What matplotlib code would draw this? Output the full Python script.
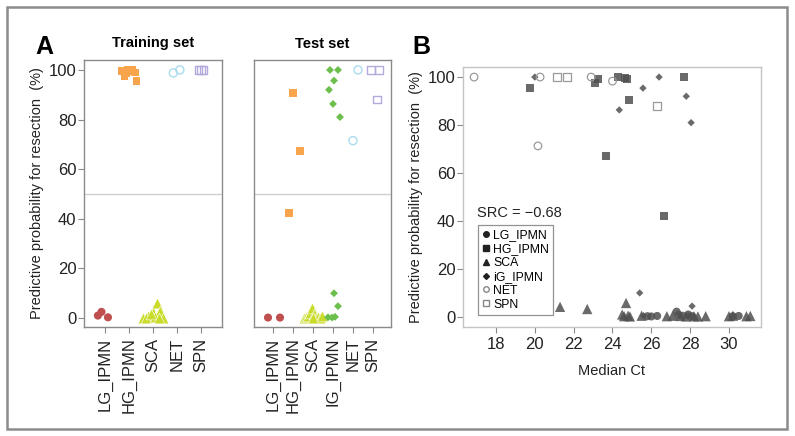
import matplotlib
matplotlib.use("Agg")
import matplotlib.pyplot as plt
from matplotlib.patches import Rectangle
from matplotlib.lines import Line2D

# ---------- data: panel A, training set ----------
train_groups = ["LG_IPMN", "HG_IPMN", "SCA", "NET", "SPN"]
train_values = [
    [1.0, 2.5, 0.3],
    [99.5, 97.5, 100, 99.5, 99.0, 95.5, 100, 98.5],
    [0, 1.0, 2.5, 6.0, 3.0, 0, 0, 0.5, 1.5, 0],
    [98.8, 100],
    [100, 100, 100],
]
train_jitter = [
    [-0.3, -0.15, 0.12],
    [-0.3, -0.2, -0.05, 0.05, 0.25, 0.3, 0.15, -0.1],
    [-0.4, -0.2, 0.0, 0.15, 0.3, 0.4, -0.3, 0.1, -0.1, 0.25],
    [-0.15, 0.12],
    [-0.1, 0.0, 0.1],
]

# ---------- data: panel A, test set ----------
test_groups = ["LG_IPMN", "HG_IPMN", "SCA", "IG_IPMN", "NET", "SPN"]
test_values = [
    [0.2, 0.2],
    [90.7, 67.3, 42.3],
    [0, 0.5, 1.0, 2.0, 4.0, 1.5, 0, 0.5, 0, 1.0, 0],
    [100, 100, 95.7, 92.0, 86.3, 81.0, 10.0, 4.8, 0.3, 0.2, 0.5],
    [100, 71.5],
    [100, 100, 88.0],
]
test_jitter = [
    [-0.25, 0.35],
    [0.0, 0.35, -0.2],
    [-0.45, -0.35, -0.25, -0.15, -0.05, 0.05, 0.15, 0.25, 0.35, 0.45, 0.0],
    [-0.15, 0.25, 0.05, -0.2, 0.0, 0.35, 0.05, 0.25, -0.25, -0.05, 0.1],
    [0.25, 0.0],
    [-0.1, 0.3, 0.2],
]

# ---------- data: panel B ----------
b_groups = ["LG_IPMN", "HG_IPMN", "SCA", "iG_IPMN", "NET", "SPN"]
b_ct = [
    [25.8, 26.0, 26.3, 27.3, 27.4, 27.6, 27.9, 28.1, 30.2, 30.5],
    [19.75, 23.1, 23.26, 24.3, 24.65, 24.75, 24.85, 23.67, 27.7, 26.66],
    [21.3, 22.7, 24.7, 24.5, 24.6, 24.8, 24.9, 25.5, 26.8, 27.1, 27.5,
     27.8, 28.2, 28.4, 28.8, 30.0, 30.2, 30.9, 31.1],
    [20.0, 24.35, 25.57, 26.4, 27.8, 28.05, 25.4, 28.1, 25.6, 27.9],
    [16.87, 20.27, 20.16, 22.9, 24.0],
    [21.14, 21.66, 26.3],
]
b_prob = [
    [0.3, 0.2, 0.4, 2.2, 0.8, 0.5, 1.0, 0.3, 0.3, 0.4],
    [95.4, 97.5, 99.2, 100, 99.6, 99.2, 90.4, 67.2, 100, 42.0],
    [4.2, 3.3, 5.8, 1.0, 0.3, 0.5, 0.2, 0.5, 0.3, 0.5, 0.4,
     0.2, 0.3, 0.2, 0.3, 0.3, 0.5, 0.3, 0.4],
    [100, 86.3, 95.4, 100, 92.0, 81.0, 10.0, 4.5, 0.5, 0.3],
    [100, 100, 71.3, 100, 98.3],
    [100, 100, 88.0],
]
src_text = "SRC = \u22120.68"

# styles
col_style = {
    "LG_IPMN": dict(marker="o", c="#c0504f", filled=True),
    "HG_IPMN": dict(marker="s", c="#f8a44c", filled=True),
    "SCA": dict(marker="^", c="#c9dc2c", filled=True),
    "IG_IPMN": dict(marker="D", c="#6cbf4c", filled=True),
    "NET": dict(marker="o", c="#a9dced", filled=False),
    "SPN": dict(marker="s", c="#b3a9dc", filled=False),
}
a_sizes = {"o": 34, "s": 28, "^": 60, "D": 16}
b_style = {
    "LG_IPMN": ("o", True, 34), "HG_IPMN": ("s", True, 36), "SCA": ("^", True, 55),
    "iG_IPMN": ("D", True, 14), "NET": ("o", False, 30), "SPN": ("s", False, 32),
}
dark = "#505050"
spine_c = "#8a8a8a"
tick_fs = 12

W, H = 795, 436
fig = plt.figure(figsize=(W / 100, H / 100), dpi=100)
plt.rcParams["font.family"] = ["Liberation Sans", "DejaVu Sans"]


def px_axes(l, t, r, b):
    return fig.add_axes([l / W, (H - b) / H, (r - l) / W, (b - t) / H])


def style_a(ax):
    for s in ax.spines.values():
        s.set_color(spine_c)
        s.set_linewidth(1.0)
    ax.set_ylim(-3.6, 104)
    ax.axhline(50, color="#d0d0d0", lw=1.0, zorder=0)
    ax.tick_params(axis="both", colors=spine_c, labelcolor="#222222",
                   labelsize=tick_fs, length=4, width=0.8)
    ax.tick_params(axis="y", pad=1.5)


def draw_cats(ax, groups, values, jitter):
    for i, (g, vals, jit) in enumerate(zip(groups, values, jitter)):
        st = col_style[g]
        xs = [i + 1 + j for j in jit]
        size = a_sizes[st["marker"]]
        if st["filled"]:
            edge = "white" if st["marker"] == "^" else "none"
            ax.scatter(xs, vals, marker=st["marker"], s=size, c=st["c"],
                       edgecolors=edge, linewidths=0.4, zorder=3)
        else:
            ax.scatter(xs, vals, marker=st["marker"], s=size, facecolors="none",
                       edgecolors=st["c"], linewidths=1.0, zorder=3)
    ax.set_xticks(range(1, len(groups) + 1))
    ax.set_xticklabels(groups, rotation=90)


# ---- Training set ----
ax1 = px_axes(84, 60, 222, 327)
style_a(ax1)
draw_cats(ax1, train_groups, train_values, train_jitter)
ax1.set_xlim(0.12, 5.88)
ax1.set_yticks([0, 20, 40, 60, 80, 100])
ax1.set_ylabel("Predictive probability for resection  (%)", fontsize=10.5,
               color="#222222", labelpad=3)
ax1.set_title("Training set", fontsize=10.5, fontweight="bold", pad=9)

# ---- Test set ----
ax2 = px_axes(254, 60, 391, 327)
style_a(ax2)
draw_cats(ax2, test_groups, test_values, test_jitter)
ax2.set_xlim(0.05, 6.9)
ax2.set_yticks([])
ax2.set_title("Test set", fontsize=10.5, fontweight="bold", pad=9)

# ---- Panel B ----
ax3 = px_axes(463, 67, 761, 327)
for s in ax3.spines.values():
    s.set_color("#c4c4c4")
    s.set_linewidth(1.0)
handles = []
for g, cts, probs in zip(b_groups, b_ct, b_prob):
    m, filled, size = b_style[g]
    if filled:
        ax3.scatter(cts, probs, marker=m, s=size, c=dark, alpha=0.85,
                    edgecolors="none", zorder=3)
        handles.append(Line2D([], [], ls="none", marker=m, color="#222222",
                              markersize=4 if m != "D" else 3))
    else:
        ax3.scatter(cts, probs, marker=m, s=size, facecolors="none",
                    edgecolors="#9a9a9a", linewidths=0.9, zorder=3)
        handles.append(Line2D([], [], ls="none", marker=m, markerfacecolor="none",
                              markeredgecolor="#888888", markersize=4))
ax3.set_xlim(16.3, 31.65)
ax3.set_ylim(-4.2, 104.2)
ax3.set_xticks([18, 20, 22, 24, 26, 28, 30])
ax3.set_yticks([0, 20, 40, 60, 80, 100])
ax3.tick_params(axis="both", colors=spine_c, labelcolor="#222222",
                labelsize=tick_fs, length=4, width=0.8)
ax3.tick_params(axis="y", pad=1.5)
ax3.set_xlabel("Median Ct", fontsize=10.5, color="#222222", labelpad=8)
ax3.set_ylabel("Predictive probability for resection  (%)", fontsize=10.5,
               color="#222222", labelpad=3)
ax3.text(0.047, 0.44, src_text, transform=ax3.transAxes, fontsize=10.5,
         color="#222222", va="center")
leg = ax3.legend(handles, b_groups, loc="upper left", bbox_to_anchor=(0.05, 0.392),
                 fontsize=8.8, frameon=True, fancybox=False, handlelength=0.6,
                 handletextpad=0.3, borderpad=0.35, labelspacing=0.15,
                 borderaxespad=0)
leg.get_frame().set_edgecolor("#777777")
leg.get_frame().set_linewidth(0.9)

# panel letters
fig.text(35 / W, 1 - 47 / H, "A", fontsize=18, fontweight="bold", va="center")
fig.text(412 / W, 1 - 47 / H, "B", fontsize=18, fontweight="bold", va="center")

# outer frame
fig.patches.append(Rectangle((7 / W, 1 - 429 / H), 780 / W, 422 / H,
                             transform=fig.transFigure, fill=False,
                             edgecolor="#8c8c8c", linewidth=1.8))

fig.savefig("out.png", dpi=100)
